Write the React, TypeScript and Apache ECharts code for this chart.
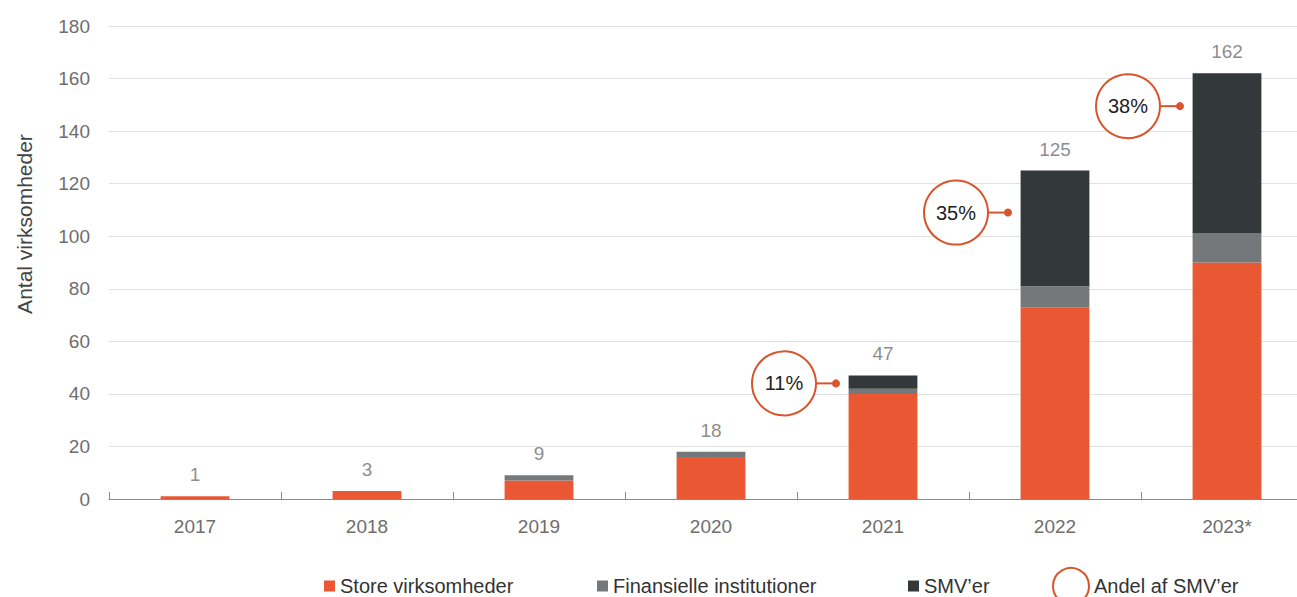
import React, { useEffect, useRef } from "react";
import * as echarts from "echarts";

const categories = ["2017", "2018", "2019", "2020", "2021", "2022", "2023*"];
const storeVirksomheder = [1, 3, 7, 16, 40, 73, 90];
const finansielle = [0, 0, 2, 2, 2, 8, 11];
const smv = [0, 0, 0, 0, 5, 44, 61];
const totals = [1, 3, 9, 18, 47, 125, 162];
// share annotations: [category index, y-position of annotation, share %]
const shareCategoryIdx = [4, 5, 6];
const shareYPos = [44, 109, 149.5];
const shareValues = [11, 35, 38];
const yTicks = { min: 0, max: 180, interval: 20 };

const ORANGE = "#E95733";
const GRAY = "#74787A";
const DARK = "#33383A";
const CIRCLE = "#D9542B";
const FONT = "'Liberation Sans', Arial, Helvetica, sans-serif";

const legendText = { fontSize: 20, color: "#333", fontFamily: FONT };

export default function App() {
  const ref = useRef<HTMLDivElement>(null);
  useEffect(() => {
    if (!ref.current) return;
    const chart = echarts.init(ref.current, null, { renderer: "svg" });
    const shareData = shareCategoryIdx.map((c, i) => [c, shareYPos[i], shareValues[i]]);
    const rectLegend = (left: number, name: string) => ({
      left,
      top: 576,
      padding: 0,
      itemWidth: 11,
      itemHeight: 11,
      icon: "rect",
      textStyle: legendText,
      data: [name],
    });
    chart.setOption({
      animation: false,
      textStyle: { fontFamily: FONT },
      grid: { left: 109, right: 0, top: 26, bottom: 98, containLabel: false },
      legend: [
        rectLegend(324, "Store virksomheder"),
        rectLegend(597, "Finansielle institutioner"),
        rectLegend(908, "SMV’er"),
        {
          left: 1052,
          top: 567,
          padding: 0,
          itemWidth: 36,
          itemHeight: 36,
          textStyle: legendText,
          data: [
            {
              name: "Andel af SMV’er",
              icon: "circle",
              itemStyle: { color: "#fff", borderColor: CIRCLE, borderWidth: 2 },
            },
          ],
        },
      ],
      graphic: [
        {
          type: "text",
          x: 24,
          y: 224,
          rotation: Math.PI / 2,
          style: {
            text: "Antal virksomheder",
            fontSize: 21,
            fontFamily: FONT,
            fill: "#444",
            textAlign: "center",
            textVerticalAlign: "middle",
          },
        },
      ],
      xAxis: {
        type: "category",
        data: categories,
        axisLine: { lineStyle: { color: "#8a8a8a", width: 1 } },
        axisTick: { show: true, inside: true, length: 7, lineStyle: { color: "#8a8a8a" } },
        axisLabel: { color: "#6e6e6e", fontSize: 19, margin: 18, fontFamily: FONT },
      },
      yAxis: {
        type: "value",
        min: yTicks.min,
        max: yTicks.max,
        interval: yTicks.interval,
        axisLine: { show: false },
        axisTick: { show: false },
        axisLabel: { color: "#6e6e6e", fontSize: 19, margin: 19, fontFamily: FONT },
        splitLine: { lineStyle: { color: "#e2e2e2", width: 1 } },
      },
      series: [
        {
          name: "Store virksomheder",
          type: "bar",
          stack: "t",
          barWidth: "40%",
          data: storeVirksomheder,
          itemStyle: { color: ORANGE },
        },
        {
          name: "Finansielle institutioner",
          type: "bar",
          stack: "t",
          data: finansielle,
          itemStyle: { color: GRAY },
        },
        {
          name: "SMV’er",
          type: "bar",
          stack: "t",
          data: smv,
          itemStyle: { color: DARK },
        },
        {
          name: "totals",
          type: "scatter",
          data: totals,
          symbolSize: 0,
          silent: true,
          label: {
            show: true,
            position: "top",
            distance: 12,
            fontSize: 19,
            color: "#6e6e6e",
            fontFamily: FONT,
          },
        },
        {
          name: "Andel af SMV’er",
          type: "custom",
          data: shareData,
          itemStyle: { color: "#fff", borderColor: CIRCLE },
          renderItem: (params: any, api: any) => {
            const p = api.coord([api.value(0), api.value(1)]);
            const dotX = p[0] - 47;
            const cx = p[0] - 99;
            const r = 32;
            return {
              type: "group",
              children: [
                {
                  type: "line",
                  shape: { x1: cx + r, y1: p[1], x2: dotX, y2: p[1] },
                  style: { stroke: CIRCLE, lineWidth: 2 },
                },
                {
                  type: "circle",
                  shape: { cx: dotX, cy: p[1], r: 4 },
                  style: { fill: CIRCLE },
                },
                {
                  type: "circle",
                  shape: { cx, cy: p[1], r },
                  style: { fill: "#fff", stroke: CIRCLE, lineWidth: 2 },
                },
                {
                  type: "text",
                  style: {
                    text: api.value(2) + "%",
                    x: cx,
                    y: p[1],
                    textAlign: "center",
                    textVerticalAlign: "middle",
                    fontSize: 20,
                    fontFamily: FONT,
                    fill: "#222",
                  },
                },
              ],
            };
          },
        },
      ],
    });
    return () => chart.dispose();
  }, []);
  return (
    <div
      style={{
        position: "absolute",
        left: 0,
        top: 0,
        width: 1297,
        height: 597,
        overflow: "hidden",
      }}
    >
      <div ref={ref} style={{ width: 1313, height: 597 }} />
    </div>
  );
}
